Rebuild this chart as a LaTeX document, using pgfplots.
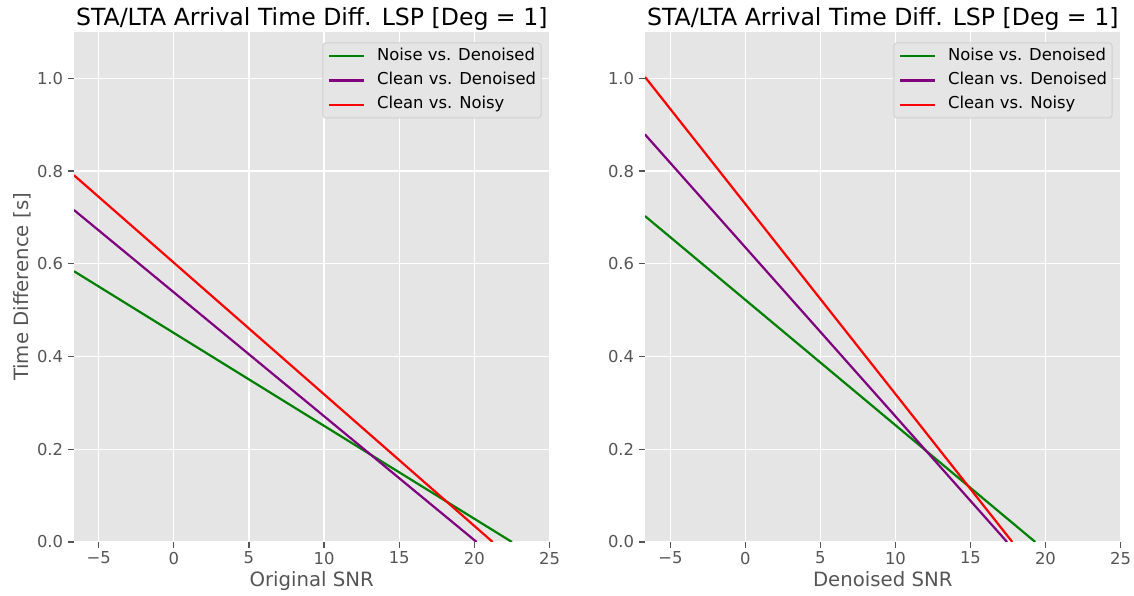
\documentclass[border=0pt]{standalone}
\usepackage{pgfplots}
\pgfplotsset{compat=1.18}
\usepackage{fontspec}
\setmainfont{DejaVu Sans}

\definecolor{panelbg}{HTML}{E5E5E5}
\definecolor{labelgray}{HTML}{555555}
\definecolor{legendedge}{HTML}{D0D0D0}
\definecolor{mplgreen}{HTML}{008000}
\definecolor{mplpurple}{HTML}{800080}
\definecolor{mplred}{HTML}{FF0000}

\pgfplotsset{
  ggpanel/.style={
    scale only axis, width=475.5pt, height=510pt,
    axis background/.style={fill=panelbg},
    axis line style={draw=none},
    grid=major,
    major grid style={white, line width=1.3pt},
    tick align=outside, tick pos=left,
    major tick length=5.7pt,
    every tick/.style={labelgray, line width=1.3pt},
    ymin=0, ymax=1.1,
    xtick={-5,0,5,10,15,20,25},
    xticklabels={−5,0,5,10,15,20,25},
    ytick={0,0.2,0.4,0.6,0.8,1.0},
    /pgf/number format/assume math mode=true,
    /pgf/number format/fixed,
    /pgf/number format/fixed zerofill,
    /pgf/number format/precision=1,
    tick label style={font=\fontsize{16.4}{16.4}\selectfont, text=labelgray},
    xticklabel style={inner sep=0pt, anchor=north, yshift=-4pt},
    yticklabel style={inner sep=0pt, anchor=east, xshift=-5pt},
    title style={font=\fontsize{23.6}{23.6}\selectfont, text=black,
      at={(axis description cs:0.5,1.0)}, anchor=base, inner sep=0pt},
    xlabel style={font=\fontsize{19.7}{19.7}\selectfont, text=labelgray,
      at={(axis description cs:0.5,-0.0863)}, anchor=base, inner sep=0pt},
    ylabel style={font=\fontsize{19.7}{19.7}\selectfont, text=labelgray,
      at={(axis description cs:-0.0967,0.5)}, anchor=base, inner sep=0pt},
    legend cell align=left,
    legend style={
      at={(axis description cs:0.9832,0.9794)}, anchor=north east,
      fill=panelbg, draw=legendedge, line width=1pt, rounded corners=3pt,
      font=\fontsize{16.4}{16.4}\selectfont, text=black,
      inner xsep=5pt, inner ysep=5.5pt, row sep=8.7pt, column sep=0pt,
      nodes={inner sep=0pt, text height=12pt, text depth=3.5pt},
    },
    legend image code/.code={
      \draw[#1, line width=2.2pt] (0pt,0pt) -- (35pt,0pt);
      \path (47pt,0pt);
    },
    every axis plot/.append style={line width=2.2pt, no marks},
  }
}

\begin{document}
\begin{tikzpicture}
\useasboundingbox (0,0) rectangle (1134pt,596pt);

% Left panel: time difference against the original SNR
\begin{axis}[ggpanel,
  at={(74pt,54pt)}, anchor=south west,
  xmin=-6.64, xmax=25,
  title={STA/LTA Arrival Time Diff. LSP [Deg = 1]},
  xlabel={Original SNR},
  ylabel={Time Difference [s]},
]
\addplot[mplgreen]  coordinates {(-6.64,0.584) (22.50,0)};
\addplot[mplpurple] coordinates {(-6.64,0.716) (20.15,0)};
\addplot[mplred]    coordinates {(-6.64,0.791) (21.22,0)};
\legend{Noise vs. Denoised, Clean vs. Denoised, Clean vs. Noisy}
\end{axis}

% Right panel: time difference against the denoised SNR
\begin{axis}[ggpanel,
  at={(645pt,54pt)}, anchor=south west,
  xmin=-6.69, xmax=25,
  title={STA/LTA Arrival Time Diff. LSP [Deg = 1]},
  xlabel={Denoised SNR},
]
\addplot[mplgreen]  coordinates {(-6.69,0.703) (19.32,0)};
\addplot[mplpurple] coordinates {(-6.69,0.879) (17.44,0)};
\addplot[mplred]    coordinates {(-6.69,1.003) (17.79,0)};
\legend{Noise vs. Denoised, Clean vs. Denoised, Clean vs. Noisy}
\end{axis}
\end{tikzpicture}
\end{document}
